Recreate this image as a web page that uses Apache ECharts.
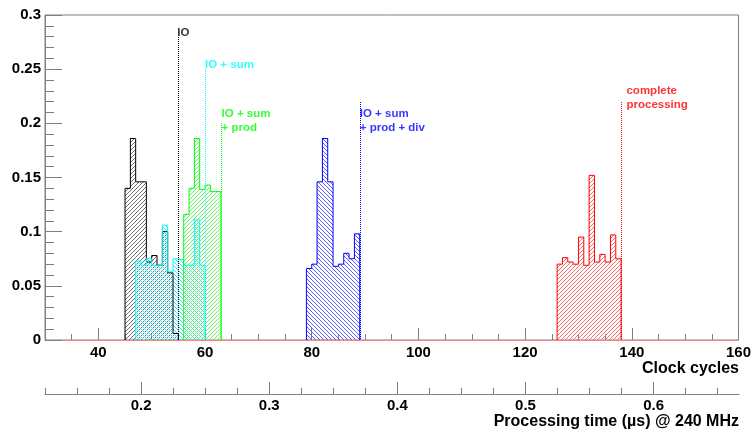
<!DOCTYPE html>
<html lang="en">
<head>
<meta charset="UTF-8">
<title>Processing time</title>
<script src="https://cdn.jsdelivr.net/npm/echarts@6/dist/echarts.min.js"></script>
<style>
  body { margin: 0; background: #fff; }
  #main { width: 754px; height: 432px; }
</style>
</head>
<body>
<div id="main"></div>
<script>
// histograms: low edge of the first bin (clock cycles), one bin per cycle
var ioStart = 45;
var ioValues = [0.140, 0.186, 0.146, 0.146, 0.072, 0.078, 0.069, 0.100, 0.062, 0.006];
var sumStart = 47;
var sumValues = [0.073, 0.069, 0.075, 0.069, 0.069, 0.106, 0.063, 0.075, 0.074, 0.069, 0.069, 0.111, 0.069];
var prodStart = 56;
var prodValues = [0.116, 0.140, 0.186, 0.139, 0.143, 0.137, 0.137];
var divStart = 79;
var divValues = [0.066, 0.070, 0.146, 0.186, 0.146, 0.068, 0.070, 0.080, 0.075, 0.098];
var fullStart = 126;
var fullValues = [0.070, 0.076, 0.072, 0.070, 0.095, 0.069, 0.152, 0.072, 0.079, 0.072, 0.097, 0.075];

// dotted markers at the end of each stage
var markerX = [55, 60, 63, 89, 138];
var markerTop = [0.28, 0.25, 0.20, 0.22, 0.22];
var markerText = ['IO', 'IO + sum', 'IO + sum\n+ prod', 'IO + sum\n+ prod + div', 'complete\nprocessing'];
var textX = [54.8, 60.0, 63.1, 89.0, 139.0];
var textY = [0.2896, 0.2601, 0.2148, 0.2148, 0.2361];

// axes
var cycleMin = 30, cycleMax = 160;
var cycleLabels = [40, 60, 80, 100, 120, 140, 160];
var cycleMinor = [35, 45, 50, 55, 65, 70, 75, 85, 90, 95, 105, 110, 115, 125, 130, 135, 145, 150, 155];
var clockMHz = 240;
var timeLabels = [0.2, 0.3, 0.4, 0.5, 0.6];
var timeMinor = [0.125, 0.15, 0.175, 0.225, 0.25, 0.275, 0.325, 0.35, 0.375, 0.425, 0.45, 0.475,
                 0.525, 0.55, 0.575, 0.625, 0.65];

var colors = ['#000000', '#00ffff', '#00ff00', '#0000ff', '#ff0000'];
var hatchColors = ['#707070', '#40e4f4', '#66ee66', '#5c5cff', '#ff6e6e'];
var hatchDir = ['/', '\\', '/', '\\', '/'];
var FONT = 'Liberation Sans, Arial, Helvetica, sans-serif';
var GRAY = '#808080';
var HATCH_STEP = 4;

// pixel-aligned 45 degree hatch inside one bin rectangle, as a path of 1px squares
function hatchPath(x0, x1, y0, y1, dir) {
    var s = HATCH_STEP, d = '';
    var ix0 = Math.round(x0), ix1 = Math.round(x1), iy0 = Math.round(y0), iy1 = Math.round(y1);
    for (var py = iy0; py < iy1; py++) {
        for (var px = ix0; px < ix1; px++) {
            var m = dir === '/' ? (px + py) % s : ((px - py) % s + s) % s;
            if (m === 0) d += 'M' + px + ' ' + py + 'h1v1h-1z';
        }
    }
    return d;
}

// dotted vertical line, one pixel dot every two pixels
function dotPath(x, yTop, yBottom) {
    var d = '', px = Math.round(x);
    for (var py = Math.round(yTop); py < yBottom; py += 2) {
        d += 'M' + px + ' ' + py + 'h1v1h-1z';
    }
    return d;
}

// step outline of a histogram
function steps(start, values) {
    var pts = [[start, 0]];
    for (var i = 0; i < values.length; i++) {
        pts.push([start + i, values[i]]);
    }
    pts.push([start + values.length, 0]);
    return pts;
}

function bins(start, values) {
    return values.map(function (v, i) { return [start + i, v]; });
}

function hatchSeries(start, values, k) {
    return {
        type: 'custom',
        silent: true,
        z: 1,
        data: bins(start, values),
        encode: { x: 0, y: 1 },
        renderItem: function (params, api) {
            var lo = api.value(0), v = api.value(1);
            var p0 = api.coord([lo, 0]), p1 = api.coord([lo + 1, v]);
            var d = hatchPath(p0[0], p1[0], p1[1], p0[1], hatchDir[k]);
            if (!d) return { type: 'group', children: [] };
            return { type: 'path', shape: { pathData: d }, style: { fill: hatchColors[k], stroke: null } };
        }
    };
}

function outlineSeries(start, values, k) {
    return {
        type: 'line',
        step: 'end',
        symbol: 'none',
        silent: true,
        data: steps(start, values),
        lineStyle: { color: colors[k], width: 1 },
        itemStyle: { color: colors[k] },
        z: 3 + k
    };
}

var labelFont = { color: '#000', fontFamily: FONT, fontWeight: 'bold', fontSize: 15 };

var myChart = echarts.init(document.getElementById('main'));
var option = {
    animation: false,
    title: [
        { text: 'Clock cycles', right: 15, top: 361, padding: 0,
          textStyle: { color: '#000', fontFamily: FONT, fontWeight: 'bold', fontSize: 16 } },
        { text: 'Processing time (µs) @ 240 MHz', right: 15, top: 414, padding: 0,
          textStyle: { color: '#000', fontFamily: FONT, fontWeight: 'bold', fontSize: 16 } }
    ],
    grid: [
        { left: 45, right: 15, top: 15, bottom: 92, show: true, borderColor: GRAY, borderWidth: 1 },
        { left: 45, right: 15, top: 393, height: 1 }
    ],
    xAxis: [
        {
            type: 'value', gridIndex: 0, position: 'bottom', min: cycleMin, max: cycleMax,
            axisLine: { lineStyle: { color: '#ff8080', width: 1 } },
            axisTick: { inside: true, length: 12, lineStyle: { color: GRAY }, customValues: cycleLabels },
            axisLabel: Object.assign({ margin: 5, customValues: cycleLabels }, labelFont),
            splitLine: { show: false }
        },
        {
            type: 'value', gridIndex: 0, position: 'bottom', min: cycleMin, max: cycleMax,
            axisLine: { show: false },
            axisTick: { inside: true, length: 6, lineStyle: { color: GRAY }, customValues: cycleMinor },
            axisLabel: { show: false },
            splitLine: { show: false }
        },
        {
            type: 'value', gridIndex: 1, position: 'bottom',
            min: cycleMin / clockMHz, max: cycleMax / clockMHz,
            axisLine: { lineStyle: { color: GRAY, width: 1 } },
            axisTick: { inside: true, length: 12, lineStyle: { color: GRAY }, customValues: timeLabels },
            axisLabel: Object.assign({ margin: 4, customValues: timeLabels }, labelFont),
            splitLine: { show: false }
        },
        {
            type: 'value', gridIndex: 1, position: 'bottom',
            min: cycleMin / clockMHz, max: cycleMax / clockMHz,
            axisLine: { show: false },
            axisTick: { inside: true, length: 6, lineStyle: { color: GRAY }, customValues: timeMinor },
            axisLabel: { show: false },
            splitLine: { show: false }
        }
    ],
    yAxis: [
        {
            type: 'value', gridIndex: 0, min: 0, max: 0.3, interval: 0.05,
            axisLine: { show: true, lineStyle: { color: GRAY, width: 1 } },
            axisTick: { show: true, inside: true, length: 17, lineStyle: { color: GRAY } },
            minorTick: { show: true, splitNumber: 5, length: 9, lineStyle: { color: GRAY } },
            axisLabel: Object.assign({ margin: 4 }, labelFont),
            splitLine: { show: false }
        },
        { type: 'value', gridIndex: 1, min: 0, max: 1, show: false }
    ],
    series: [
        hatchSeries(ioStart, ioValues, 0),
        hatchSeries(sumStart, sumValues, 1),
        hatchSeries(prodStart, prodValues, 2),
        hatchSeries(divStart, divValues, 3),
        hatchSeries(fullStart, fullValues, 4),
        outlineSeries(ioStart, ioValues, 0),
        outlineSeries(sumStart, sumValues, 1),
        outlineSeries(prodStart, prodValues, 2),
        outlineSeries(divStart, divValues, 3),
        outlineSeries(fullStart, fullValues, 4),
        {
            // dotted stage markers
            type: 'custom',
            silent: true,
            z: 9,
            data: markerX.map(function (x, k) { return [x, markerTop[k], k]; }),
            encode: { x: 0, y: 1 },
            renderItem: function (params, api) {
                var x = api.value(0), top = api.value(1), k = api.value(2);
                var pTop = api.coord([x, top]), pBot = api.coord([x, 0]);
                return { type: 'path', shape: { pathData: dotPath(pTop[0], pTop[1], pBot[1]) },
                         style: { fill: colors[k], stroke: null } };
            }
        },
        {
            type: 'scatter',
            symbolSize: 0,
            silent: true,
            z: 10,
            data: markerText.map(function (t, k) {
                return { name: t, value: [textX[k], textY[k]], label: { color: colors[k] } };
            }),
            label: {
                show: true, position: [0, 0], align: 'left', verticalAlign: 'top',
                formatter: '{b}', fontFamily: FONT, fontWeight: 'bold', fontSize: 11.5, lineHeight: 13.5
            }
        }
    ]
};
myChart.setOption(option);
</script>
</body>
</html>
